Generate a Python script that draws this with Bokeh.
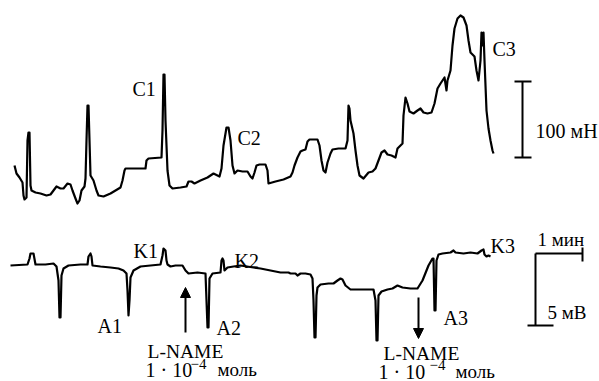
from bokeh.plotting import figure
from bokeh.models import Range1d, Label, Arrow, NormalHead
from bokeh.embed import file_html
from bokeh.resources import INLINE

# ---- data: time (px-equivalent units) and amplitude ----
# Top trace: contraction force
top_t = [14, 16, 19, 22, 23, 24, 26, 27, 28, 29, 30, 31, 35, 40, 46, 50, 53, 56, 60, 63,
         67, 70, 72, 75, 77, 79, 81, 84, 85, 86, 87, 88, 89, 90, 93, 96, 98, 103, 110, 115,
         120, 122, 124, 125, 145, 146, 148, 161, 162, 163, 164, 165, 167, 169, 172, 180, 186, 188, 191, 194,
         200, 207, 213, 217, 219, 221, 223, 226, 228, 230, 232, 234, 237, 242, 247, 250, 252, 254, 256, 259,
         265, 267, 268, 275, 283, 290, 292, 294, 297, 300, 302, 305, 307, 309, 317, 319, 321, 323, 325, 327,
         330, 332, 338, 345, 347, 348, 349, 350, 353, 355, 357, 359, 363, 368, 372, 375, 378, 381, 384, 387,
         391, 395, 397, 400, 402, 403, 405, 407, 409, 413, 417, 420, 423, 427, 431, 434, 437, 440, 442, 444,
         446, 447, 450, 452, 454, 457, 460, 463, 466, 468, 470, 474, 476, 478, 480, 481, 482, 483, 484, 486,
         488, 490, 492, 493]
top_v = [216, 208, 204, 199, 186, 182, 184, 241, 249, 249, 196, 191, 189, 188, 186, 187, 191, 195, 193, 193,
         198, 197, 191, 183, 178, 181, 191, 195, 203, 241, 276, 276, 241, 206, 201, 191, 186, 185, 188, 191,
         194, 201, 211, 213, 213, 221, 223, 224, 251, 307, 307, 261, 211, 196, 193, 194, 195, 200, 200, 198,
         201, 204, 208, 206, 205, 213, 236, 254, 254, 241, 216, 208, 211, 210, 210, 205, 203, 209, 216, 217,
         217, 211, 198, 200, 202, 205, 209, 216, 224, 230, 231, 232, 240, 242, 242, 236, 221, 211, 209, 219,
         228, 232, 233, 233, 241, 276, 273, 261, 248, 231, 216, 206, 203, 209, 210, 213, 221, 229, 231, 227,
         226, 224, 233, 236, 238, 266, 284, 278, 270, 268, 271, 273, 269, 268, 269, 278, 293, 298, 301, 304,
         291, 301, 311, 336, 353, 363, 366, 364, 356, 341, 329, 325, 311, 301, 321, 349, 336, 349, 321, 271,
         253, 241, 231, 228]

# Bottom trace: electrical potential
bot_t = [10, 27, 29, 30, 33, 35, 45, 53, 56, 58, 59, 60, 61, 63, 68, 80, 87, 88, 90, 91,
         92, 100, 110, 118, 123, 126, 127, 128, 129, 130, 133, 140, 150, 160, 162, 163, 165, 166, 167, 170,
         175, 182, 185, 188, 197, 205, 206, 207, 208, 209, 212, 220, 221, 222, 223, 224, 227, 233, 240, 253,
         260, 270, 280, 288, 290, 295, 297, 300, 305, 310, 312, 313, 314, 315, 316, 317, 320, 328, 333, 337,
         340, 342, 345, 350, 360, 373, 375, 376, 377, 378, 381, 387, 392, 397, 402, 410, 417, 422, 428, 432,
         433, 434, 435, 436, 438, 442, 450, 453, 455, 463, 470, 477, 481, 483, 484, 486, 488, 490]
bot_v = [116, 117, 123, 128, 128, 117, 117, 118, 115, 101, 64, 64, 106, 113, 116, 117, 117, 125, 128, 125,
         116, 115, 114, 113, 111, 108, 91, 66, 81, 104, 111, 115, 116, 117, 126, 133, 131, 121, 117, 115,
         116, 116, 111, 108, 109, 108, 81, 54, 54, 103, 108, 109, 121, 123, 121, 111, 114, 115, 116, 114,
         113, 111, 109, 109, 108, 108, 106, 108, 108, 107, 103, 81, 44, 44, 86, 94, 97, 98, 98, 101,
         103, 102, 96, 92, 92, 92, 81, 41, 41, 86, 90, 92, 93, 96, 94, 93, 93, 101, 116, 123,
         123, 71, 71, 121, 127, 128, 129, 131, 129, 128, 129, 128, 131, 132, 127, 125, 126, 125]

# Event labels: (text, x, baseline)
event_labels = [("C1", 132, 293), ("C2", 237, 244), ("C3", 492, 333),
                ("K1", 133, 131), ("K2", 234, 121), ("K3", 490, 136),
                ("A1", 97, 56), ("A2", 216, 54), ("A3", 443, 64)]

# L-NAME application markers
lname_x = [185, 418]
lname_from = [49, 84]
lname_to = [94, 43]
lname_text_x = [147, 383]
lname_text_y = [30, 28]
dose_x = [145, 378]
dose_y = [12, 10]
sup_x = [190, 429]
sup_y = [18, 17]
unit_x = [217, 455]

# Scale bars (100 mN, 1 min, 5 mV)
bar_x0 = [522, 514, 514, 535, 582, 535, 527]
bar_y0 = [300, 300, 224, 128, 134, 128, 56]
bar_x1 = [522, 531, 531, 582, 582, 535, 553]
bar_y1 = [224, 300, 224, 128, 120, 56, 56]
bar_labels = [("100 мН", 535, 251, "20px"), ("1 мин", 537, 142, "19px"), ("5 мВ", 547, 69, "19px")]

FONT = "Liberation Serif"

p = figure(width=599, height=381, output_backend="svg", toolbar_location=None,
           x_range=Range1d(0, 599), y_range=Range1d(0, 381),
           min_border=0, min_border_left=0, min_border_right=0,
           min_border_top=0, min_border_bottom=0)
p.axis.visible = False
p.grid.visible = False
p.outline_line_color = None
p.background_fill_color = "white"
p.border_fill_color = "white"

p.line(top_t, top_v, line_color="black", line_width=2.2, line_join="round")
p.line(bot_t, bot_v, line_color="black", line_width=2.2, line_join="round")

p.segment(bar_x0, bar_y0, bar_x1, bar_y1, line_color="black", line_width=2)


def add_text(txt, x, y, size):
    p.add_layout(Label(x=x, y=y, text=txt, text_font=FONT, text_font_size=size,
                       text_color="black", text_baseline="alphabetic", text_align="left"))


for txt, x, y in event_labels:
    add_text(txt, x, y, "20px")

for txt, x, y, fs in bar_labels:
    add_text(txt, x, y, fs)

for i in range(len(lname_x)):
    p.add_layout(Arrow(x_start=lname_x[i], y_start=lname_from[i], x_end=lname_x[i], y_end=lname_to[i],
                       line_color="black", line_width=2,
                       end=NormalHead(size=10, fill_color="black", line_color="black", line_width=1)))
    add_text("L-NAME", lname_text_x[i], lname_text_y[i], "19.5px")
    add_text("1 · 10", dose_x[i], dose_y[i], "20px")
    add_text("\u22124", sup_x[i], sup_y[i], "15px")
    add_text("моль", unit_x[i], dose_y[i], "19px")

open("out.html", "w").write(file_html(p, INLINE))
